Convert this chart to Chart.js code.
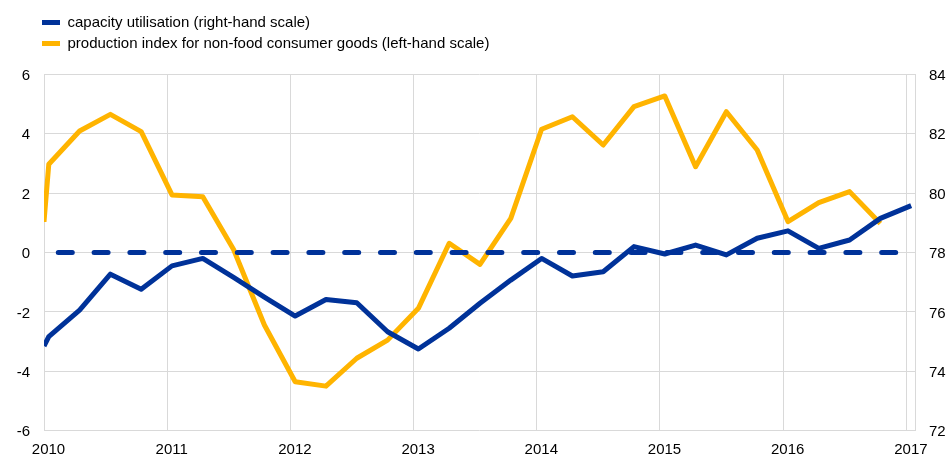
<!DOCTYPE html>
<html>
<head>
<meta charset="utf-8">
<script src="https://cdn.jsdelivr.net/npm/chart.js@4.4.0/dist/chart.umd.min.js"></script>
<style>
  html, body { margin: 0; padding: 0; background: #fff; }
  #wrap { width: 949px; height: 459px; }
</style>
</head>
<body>
<div id="wrap"><canvas id="c" width="949" height="459"></canvas></div>
<script>
// ---- data ----
const periods = ['2010-01-01',
  '2010-01-15','2010-04-15','2010-07-15','2010-10-15',
  '2011-01-15','2011-04-15','2011-07-15','2011-10-15',
  '2012-01-15','2012-04-15','2012-07-15','2012-10-15',
  '2013-01-15','2013-04-15','2013-07-15','2013-10-15',
  '2014-01-15','2014-04-15','2014-07-15','2014-10-15',
  '2015-01-15','2015-04-15','2015-07-15','2015-10-15',
  '2016-01-15','2016-04-15','2016-07-15','2016-10-15',
  '2017-01-15'];
// capacity utilisation, % (right-hand scale)
const capacityUtilisation = [74.85,
  75.17, 76.06, 77.27, 76.76,
  77.55, 77.80, 77.16, 76.50,
  75.86, 76.42, 76.31, 75.33,
  74.75, 75.45, 76.29, 77.07,
  77.80, 77.21, 77.35, 78.20,
  77.95, 78.25, 77.92, 78.48,
  78.73, 78.14, 78.42, 79.15,
  79.58];
// production index for non-food consumer goods, % y-o-y (left-hand scale)
const productionIndex = [1.03,
  2.97, 4.09, 4.65, 4.07,
  1.94, 1.88, 0.10, -2.44,
  -4.35, -4.50, -3.56, -2.95,
  -1.88, 0.31, -0.40, 1.15,
  4.15, 4.57, 3.62, 4.91,
  5.27, 2.89, 4.74, 3.45,
  1.04, 1.68, 2.05, 0.98,
  null];
// reference line (long-term average of capacity utilisation, right-hand scale)
const referencePeriods = ['2010-01-15', '2017-01-15'];
const referenceLevel = [78, 78];

const yearTicks = [2010, 2011, 2012, 2013, 2014, 2015, 2016, 2017];
const leftTicks = [-6, -4, -2, 0, 2, 4, 6];
const rightTicks = [72, 74, 76, 78, 80, 82, 84];
const seriesNames = ['capacity utilisation (right-hand scale)',
                     'production index for non-food consumer goods (left-hand scale)'];

// ---- helpers ----
function toYear(p) {
  const [y, m, d] = p.split('-').map(Number);
  return y + (m - 1 + (d - 1) / 30) / 12;
}
function pts(xs, ys) { return xs.map((p, i) => ({ x: toYear(p), y: ys[i] })); }

const BLUE = '#003299';
const YELLOW = '#FFB400';
const GRID = '#d9d9d9';
const FONT = 'Liberation Sans, Arial, sans-serif';
const LEGEND_TOP = 9;
const LEGEND_H = 65.3;
const LEGEND_LEFT = 36;

const layoutTweaks = {
  id: 'layoutTweaks',
  beforeLayout(chart) {
    const lg = chart.legend;
    if (lg && !lg.__patched) {
      const fit = lg.fit.bind(lg);
      lg.fit = function () { fit(); this.height = LEGEND_H; };
      lg.__patched = true;
    }
  },
  afterLayout(chart) {
    const lg = chart.legend;
    if (lg) { lg.left = LEGEND_LEFT; lg.right = LEGEND_LEFT + 480; lg.width = 480; }
  }
};

new Chart(document.getElementById('c'), {
  type: 'line',
  data: {
    datasets: [
      {
        label: seriesNames[0],
        data: pts(periods, capacityUtilisation),
        yAxisID: 'y1',
        borderColor: BLUE, backgroundColor: BLUE,
        borderWidth: 5, pointRadius: 0, tension: 0,
        borderJoinStyle: 'round', clip: 0, order: 1
      },
      {
        label: seriesNames[1],
        data: pts(periods, productionIndex),
        yAxisID: 'y',
        borderColor: YELLOW, backgroundColor: YELLOW,
        borderWidth: 5, pointRadius: 0, tension: 0,
        borderJoinStyle: 'round', clip: 0, order: 2
      },
      {
        label: 'average',
        data: pts(referencePeriods, referenceLevel),
        yAxisID: 'y1',
        borderColor: BLUE, backgroundColor: BLUE,
        borderWidth: 5, pointRadius: 0,
        borderDash: [14, 21.8], borderDashOffset: 26.3, borderCapStyle: 'round',
        clip: 0, order: 0
      }
    ]
  },
  options: {
    responsive: false,
    animation: false,
    layout: { padding: { top: LEGEND_TOP, left: 0, right: 0, bottom: 0 } },
    plugins: {
      tooltip: { enabled: false },
      legend: {
        position: 'top', align: 'start',
        labels: {
          font: { family: FONT, size: 15 }, color: '#000',
          boxWidth: 18, boxHeight: 5, padding: 6,
          generateLabels(chart) {
            return Chart.defaults.plugins.legend.labels.generateLabels(chart)
              .filter(l => l.datasetIndex !== 2)
              .map(l => {
                const c = chart.data.datasets[l.datasetIndex].borderColor;
                return Object.assign({}, l, { fillStyle: c, strokeStyle: c, lineWidth: 0, lineDash: [] });
              });
          }
        }
      }
    },
    scales: {
      x: {
        type: 'linear',
        min: yearTicks[0],
        max: 2017.07,
        afterBuildTicks(s) { s.ticks = yearTicks.map(v => ({ value: v })); },
        afterFit(s) { s.height = 28.3; },
        grid: { color: GRID, drawTicks: false, lineWidth: 1 },
        border: { display: false },
        ticks: {
          font: { family: FONT, size: 15 }, color: '#000',
          padding: 10.5, labelOffset: 4.5, maxRotation: 0, autoSkip: false,
          callback: v => String(v)
        }
      },
      y: {
        position: 'left',
        min: leftTicks[0], max: leftTicks[leftTicks.length - 1],
        afterBuildTicks(s) { s.ticks = leftTicks.map(v => ({ value: v })); },
        afterFit(s) { s.width = 44; },
        grid: { color: GRID, drawTicks: false, lineWidth: 1 },
        border: { display: false },
        ticks: { font: { family: FONT, size: 15 }, color: '#000', padding: 14, labelOffset: 1.5, callback: v => String(v) }
      },
      y1: {
        position: 'right',
        min: rightTicks[0], max: rightTicks[rightTicks.length - 1],
        afterBuildTicks(s) { s.ticks = rightTicks.map(v => ({ value: v })); },
        afterFit(s) { s.width = 34; },
        grid: { display: false, drawTicks: false },
        border: { display: true, color: GRID, width: 1 },
        ticks: { font: { family: FONT, size: 15 }, color: '#000', padding: 14, labelOffset: 1.5, callback: v => String(v) }
      }
    }
  },
  plugins: [layoutTweaks]
});
</script>
</body>
</html>
